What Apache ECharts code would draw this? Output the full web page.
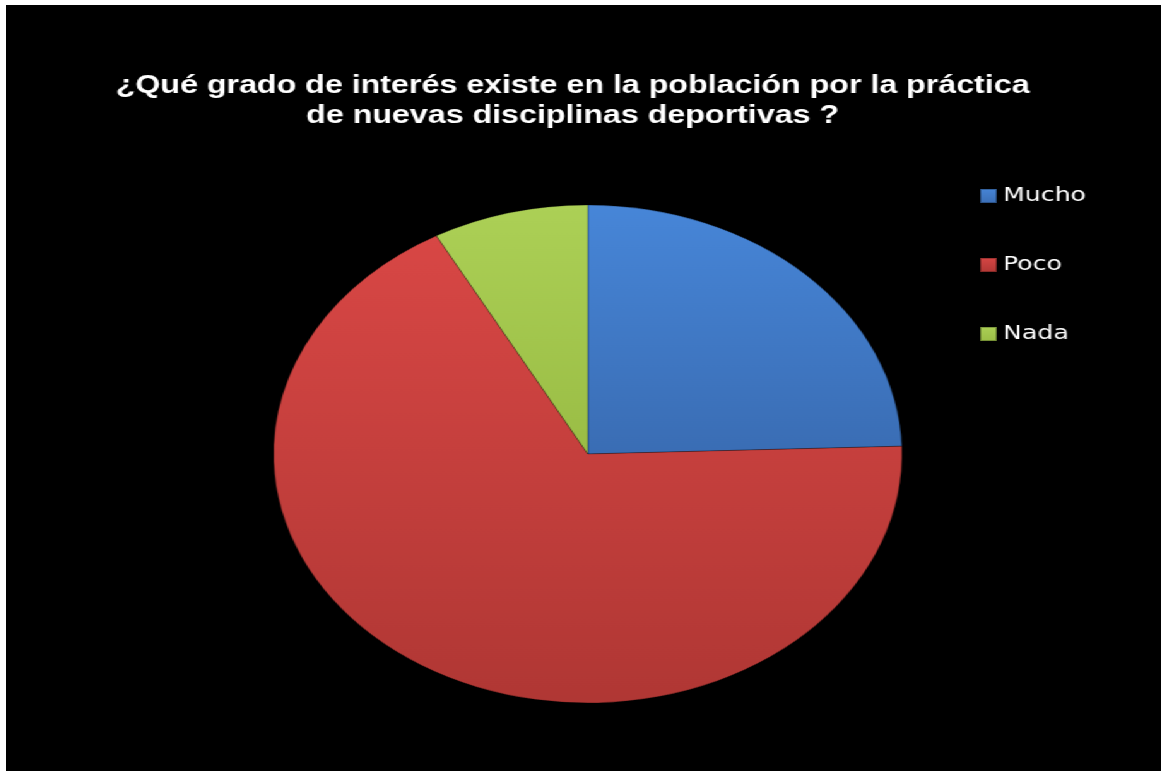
<!DOCTYPE html>
<html>
<head>
<meta charset="utf-8">
<script src="https://cdn.jsdelivr.net/npm/echarts@6/dist/echarts.min.js"></script>
<style>
  html, body { margin: 0; padding: 0; background: #fff; overflow: hidden; }
  /* 原图整体被横向拉伸，这里按同样比例拉伸整张图 */
  #main {
    position: absolute; left: 6px; top: 5px;
    width: 915px; height: 766px;
    transform: scaleX(1.262); transform-origin: 0 0;
    background: #000;
  }
</style>
</head>
<body>
<div id="main"></div>
<script>
// 数据
const categories = ['Mucho', 'Poco', 'Nada'];
const values = [24.5, 67.5, 8];
const titleLines = ['¿Qué grado de interés existe en la población por la práctica', 'de nuevas disciplinas deportivas ?'];

// 每个扇区的上下渐变色
const sliceColors = [
  ['#4786d8', '#3a6db4'],
  ['#d84745', '#b03734'],
  ['#acd056', '#9abd45']
];

const chart = echarts.init(document.getElementById('main'));

const pieData = categories.map((name, i) => ({
  name: name,
  value: values[i],
  itemStyle: {
    color: new echarts.graphic.LinearGradient(0, 0, 0, 1, [
      { offset: 0, color: sliceColors[i][0] },
      { offset: 1, color: sliceColors[i][1] }
    ])
  }
}));

const option = {
  backgroundColor: '#000',
  animation: false,
  title: {
    text: titleLines.join('\n'),
    left: 444,
    top: 61,
    textAlign: 'center',
    textStyle: {
      color: '#fff',
      fontFamily: 'Liberation Sans',
      fontWeight: 'bold',
      fontSize: 25.5,
      lineHeight: 30
    }
  },
  legend: {
    orient: 'vertical',
    left: 771,
    top: 181,
    padding: 0,
    itemGap: 49,
    itemWidth: 13,
    itemHeight: 14,
    icon: 'rect',
    data: categories,
    textStyle: {
      color: '#fff',
      fontFamily: 'DejaVu Sans',
      fontSize: 20,
      lineHeight: 20
    }
  },
  series: [{
    type: 'pie',
    center: [461, 449],
    radius: [0, 249],
    startAngle: 90,
    clockwise: true,
    label: { show: false },
    labelLine: { show: false },
    itemStyle: {
      borderColor: 'rgba(0,0,0,0.25)',
      borderWidth: 1
    },
    data: pieData
  }]
};

chart.setOption(option);
</script>
</body>
</html>
